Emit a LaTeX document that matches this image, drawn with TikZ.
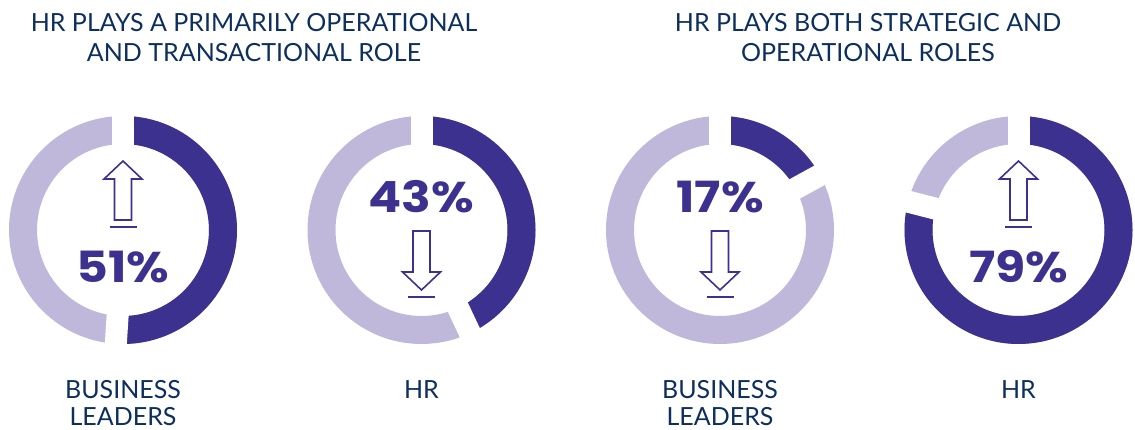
\documentclass[tikz,border=0pt]{standalone}
\usepackage{fontspec}
\setmainfont{Lato}
\newfontfamily\pctfont{Poppins}[FakeStretch=1.14]
\definecolor{darkpurple}{HTML}{3D3190}
\definecolor{lightpurple}{HTML}{BFB8DA}
\definecolor{navy}{HTML}{0D2F5E}
\tikzset{
	title/.style={text=navy, inner sep=0pt, align=center, font=\fontsize{25}{30}\selectfont},
	label/.style={text=navy, inner sep=0pt, align=center, font=\fontsize{25}{27}\selectfont},
	pct/.style={text=darkpurple, inner sep=0pt, font=\pctfont\bfseries\fontsize{43}{43}\selectfont},
	ring/.style={line width=28pt},
	cut/.style={white, line width=22pt},
	arrowline/.style={darkpurple, line width=1.6pt, line join=miter}
}
\begin{document}
\begin{tikzpicture}[x=1pt, y=1pt]
	\useasboundingbox (0,0) rectangle (1135,430);
	\node[title, anchor=north] (title1) at (254,417) {HR PLAYS A PRIMARILY OPERATIONAL\\AND TRANSACTIONAL ROLE};
	\node[title, anchor=north] (title2) at (868,417) {HR PLAYS BOTH STRATEGIC AND\\OPERATIONAL ROLES};
	
	\foreach \cx/\val/\ty/\sy/\sdir/\by/\lbl [count=\i] in {123/51/-37/10/1/3/{BUSINESS\\LEADERS}, 421.5/43/33/-1/-1/-67/HR, 720/17/33/-1/-1/-67/{BUSINESS\\LEADERS}, 1018.5/79/-37/10/1/3/HR}
	{
		\coordinate (c\i) at (\cx,200);
		\draw[ring, lightpurple] (c\i) circle (100);
		\draw[ring, darkpurple] (c\i) ++(90:100) arc (90:90-3.6*\val:100);
		\foreach \a in {90, 90-3.6*\val}
			\draw[cut] (c\i) ++(\a:75) -- ++(\a:50);
		\node[pct] (pct\i) at ([yshift=\ty]c\i) {\val\%};
		\draw[arrowline, shift={(\cx,{200+\sy})}, yscale=\sdir] (-8.5,0) -- (-8.5,41) -- (-19,41) -- (0,59) -- (19,41) -- (8.5,41) -- (8.5,0) -- cycle;
		\draw[darkpurple, line width=2.5pt] ([xshift=-13.5, yshift=\by]c\i) -- ([xshift=13.5, yshift=\by]c\i);
		\node[label, anchor=north] (lbl\i) at (\cx,50) {\lbl};
	}
\end{tikzpicture}
\end{document}
